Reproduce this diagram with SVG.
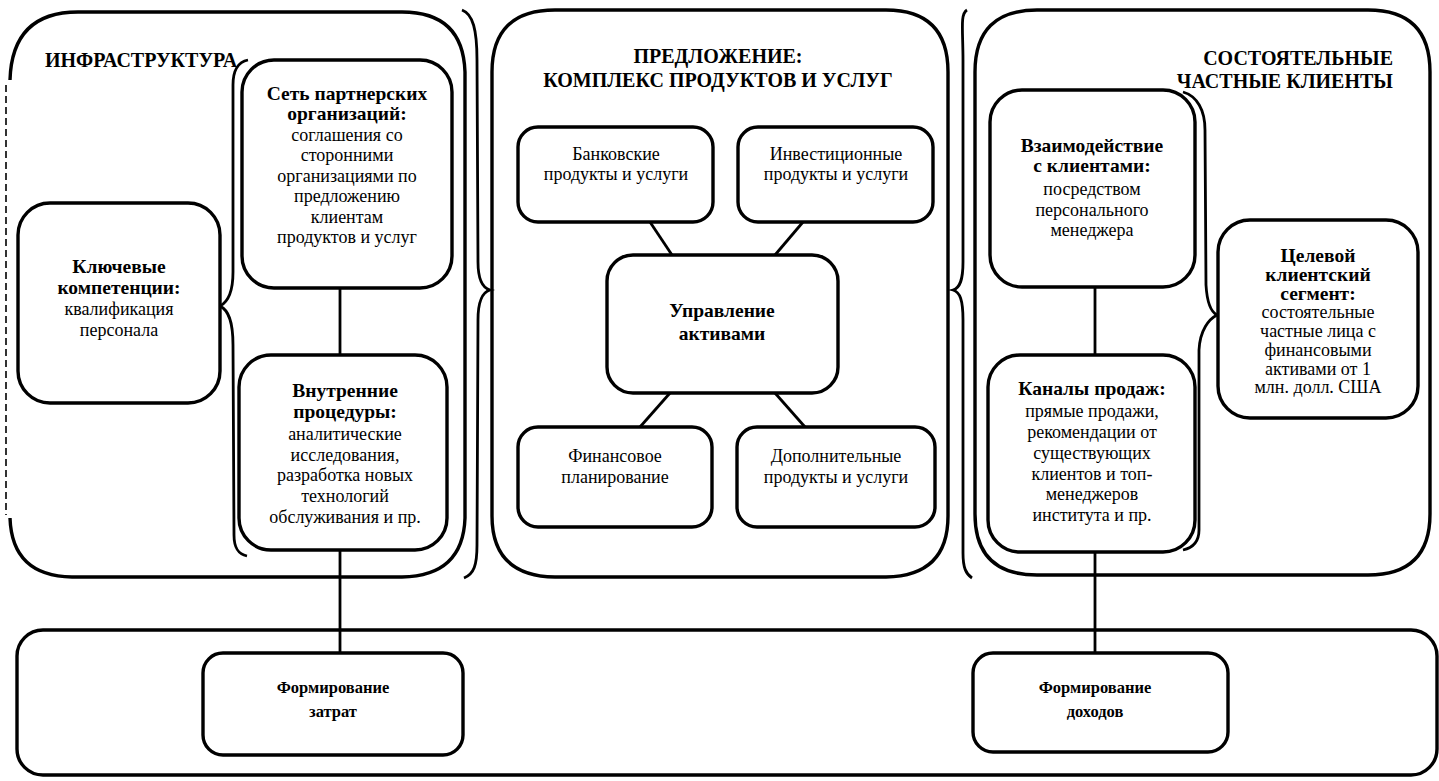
<svg xmlns="http://www.w3.org/2000/svg" width="1439" height="781" viewBox="0 0 1439 781">
<style>
.pn{fill:none;stroke:#000;stroke-width:3.4}
.bx{fill:#fff;stroke:#000;stroke-width:3.4}
.ln{fill:none;stroke:#000;stroke-width:2.8}
.br{fill:none;stroke:#000;stroke-width:2.8}
text{font-family:"Liberation Serif","Times New Roman",serif;font-size:18px;fill:#000;text-anchor:middle}
.b{font-weight:bold;font-size:19.5px}
.t{font-weight:bold;font-size:20px}
.f{font-weight:bold;font-size:16.5px}
</style>
<rect width="1439" height="781" fill="#fff"/>
<g id="panel-infra">
<path class="pn" d="M10 80 Q12 12 78 12 L402 12 Q463 12 465 72 L465 518 Q463 576 402 577 L72 577 Q12 576 10 518"/>
<line x1="6" y1="85" x2="6" y2="515" stroke="#000" stroke-width="1.6" stroke-dasharray="7 4"/>
<text class="t" x="45" y="67" style="text-anchor:start">ИНФРАСТРУКТУРА</text>
</g>
<g id="panel-offer">
<path class="pn" d="M492 72 Q492 10 555 10 L886 10 Q948 10 948 72 L948 516 Q948 576 886 577 L555 577 Q492 576 492 516 Z"/>
<text class="t" x="718" y="63">ПРЕДЛОЖЕНИЕ:</text>
<text class="t" x="718" y="87">КОМПЛЕКС ПРОДУКТОВ И УСЛУГ</text>
</g>
<g id="panel-clients">
<path class="pn" d="M975 72 Q975 10 1037 10 L1368 10 Q1430 10 1430 72 L1430 514 Q1430 575 1368 575 L1037 575 Q975 575 975 514 Z"/>
<text class="t" x="1393" y="65" style="text-anchor:end">СОСТОЯТЕЛЬНЫЕ</text>
<text class="t" x="1393" y="88" style="text-anchor:end">ЧАСТНЫЕ КЛИЕНТЫ</text>
</g>
<g id="panel-finance">
<rect class="pn" x="17" y="630" width="1420" height="145" rx="26" ry="26"/>
</g>
<g id="braces">
<path class="br" d="M462 10 C473 14 477 30 477 60 L478 262 C478 280 483 288 490 290 C483 292 478 300 478 320 L477 545 C477 565 474 574 464 578"/>
<path class="br" d="M967 10 C960 14 963 30 963 60 L963 262 C963 280 960 288 953 290 C960 292 963 300 963 320 L963 553 C963 568 966 574 972 578"/>
<path class="br" d="M248 60 C238 62 233 70 233 85 L233 272 C233 292 228 302 220 306 C228 310 233 320 233 345 L234 535 C234 548 238 554 247 556"/>
<path class="br" d="M1183 92 C1197 96 1205 110 1205 130 L1206 285 C1207 302 1211 312 1217 315 C1209 319 1200 330 1199 350 L1199 530 C1199 542 1192 548 1183 550"/>
</g>
<g id="connectors">
<line class="ln" x1="340" y1="288" x2="340" y2="355"/>
<line class="ln" x1="340" y1="550" x2="340" y2="653"/>
<line class="ln" x1="1095" y1="287" x2="1095" y2="355"/>
<line class="ln" x1="1095" y1="552" x2="1095" y2="653"/>
<line class="ln" x1="650" y1="222" x2="672" y2="255"/>
<line class="ln" x1="803" y1="222" x2="775" y2="255"/>
<line class="ln" x1="670" y1="393" x2="640" y2="427"/>
<line class="ln" x1="775" y1="393" x2="805" y2="427"/>
</g>
<g id="node-partners">
<rect class="bx" x="242" y="60" width="210" height="228" rx="32"/>
<text class="b" x="347" y="100">Сеть партнерских</text>
<text class="b" x="347" y="120">организаций:</text>
<text x="347" y="141">соглашения со</text>
<text x="347" y="161">сторонними</text>
<text x="347" y="182">организациями по</text>
<text x="347" y="202">предложению</text>
<text x="347" y="223">клиентам</text>
<text x="347" y="243">продуктов и услуг</text>
</g>
<g id="node-competence">
<rect class="bx" x="18" y="203" width="202" height="200" rx="32"/>
<text class="b" x="119" y="273">Ключевые</text>
<text class="b" x="119" y="294">компетенции:</text>
<text x="119" y="315">квалификация</text>
<text x="119" y="336">персонала</text>
</g>
<g id="node-procedures">
<rect class="bx" x="239" y="355" width="208" height="195" rx="32"/>
<text class="b" x="345" y="397">Внутренние</text>
<text class="b" x="345" y="418">процедуры:</text>
<text x="345" y="440">аналитические</text>
<text x="345" y="461">исследования,</text>
<text x="345" y="481">разработка новых</text>
<text x="345" y="502">технологий</text>
<text x="345" y="523">обслуживания и пр.</text>
</g>
<g id="node-banking">
<rect class="bx" x="518" y="127" width="195" height="95" rx="20"/>
<text x="616" y="160">Банковские</text>
<text x="616" y="180">продукты и услуги</text>
</g>
<g id="node-investment">
<rect class="bx" x="738" y="127" width="195" height="95" rx="20"/>
<text x="836" y="160">Инвестиционные</text>
<text x="836" y="180">продукты и услуги</text>
</g>
<g id="node-assets">
<rect class="bx" x="607" y="255" width="231" height="138" rx="26"/>
<text class="b" x="722" y="317">Управление</text>
<text class="b" x="722" y="340">активами</text>
</g>
<g id="node-planning">
<rect class="bx" x="518" y="427" width="194" height="100" rx="20"/>
<text x="615" y="462">Финансовое</text>
<text x="615" y="483">планирование</text>
</g>
<g id="node-additional">
<rect class="bx" x="737" y="427" width="198" height="100" rx="20"/>
<text x="836" y="462">Дополнительные</text>
<text x="836" y="483">продукты и услуги</text>
</g>
<g id="node-interaction">
<rect class="bx" x="990" y="90" width="205" height="197" rx="32"/>
<text class="b" x="1092" y="152">Взаимодействие</text>
<text class="b" x="1092" y="172">с клиентами:</text>
<text x="1092" y="195">посредством</text>
<text x="1092" y="216">персонального</text>
<text x="1092" y="236">менеджера</text>
</g>
<g id="node-segment">
<rect class="bx" x="1218" y="220" width="200" height="198" rx="32"/>
<text class="b" x="1318" y="262">Целевой</text>
<text class="b" x="1318" y="281">клиентский</text>
<text class="b" x="1318" y="300">сегмент:</text>
<text x="1318" y="318">состоятельные</text>
<text x="1318" y="337">частные лица с</text>
<text x="1318" y="356">финансовыми</text>
<text x="1318" y="375">активами от 1</text>
<text x="1318" y="393">млн. долл. США</text>
</g>
<g id="node-channels">
<rect class="bx" x="988" y="355" width="207" height="197" rx="32"/>
<text class="b" x="1092" y="395">Каналы продаж:</text>
<text x="1092" y="417">прямые продажи,</text>
<text x="1092" y="438">рекомендации от</text>
<text x="1092" y="459">существующих</text>
<text x="1092" y="480">клиентов и топ-</text>
<text x="1092" y="500">менеджеров</text>
<text x="1092" y="521">института и пр.</text>
</g>
<g id="node-costs">
<rect class="bx" x="203" y="653" width="260" height="102" rx="20"/>
<text class="f" x="333" y="693">Формирование</text>
<text class="f" x="333" y="717">затрат</text>
</g>
<g id="node-revenue">
<rect class="bx" x="973" y="653" width="255" height="99" rx="20"/>
<text class="f" x="1095" y="693">Формирование</text>
<text class="f" x="1095" y="717">доходов</text>
</g>
</svg>
